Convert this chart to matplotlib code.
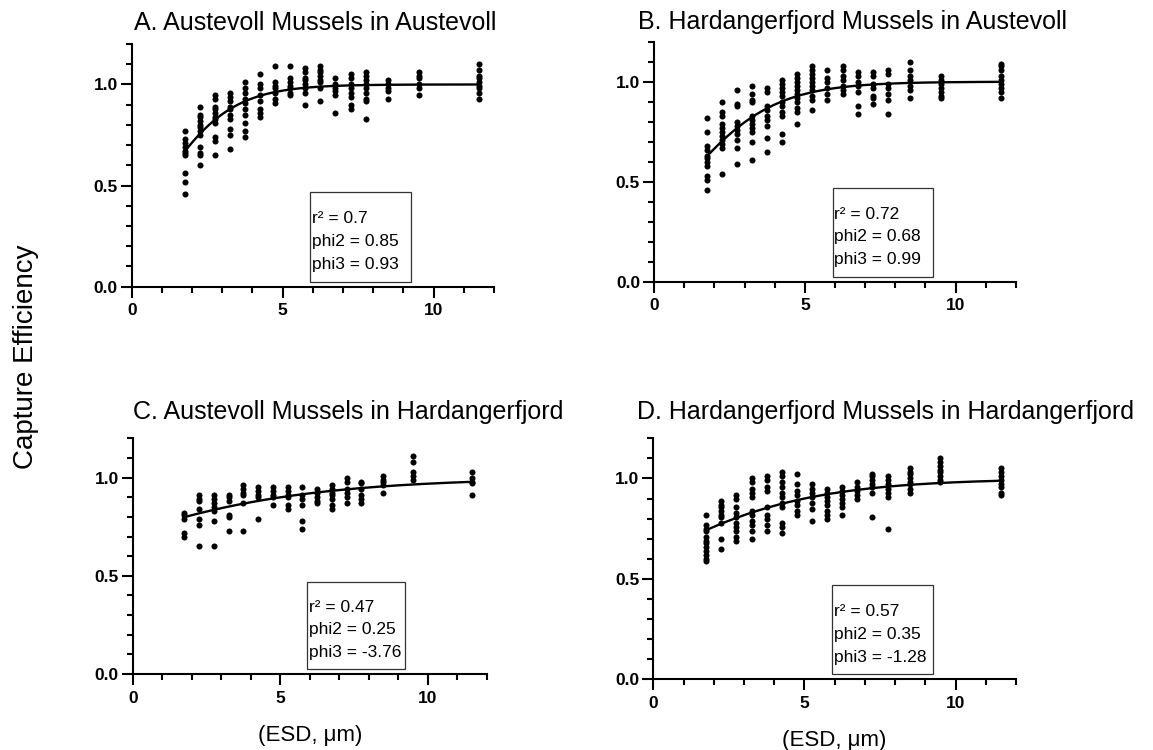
import numpy as np
import matplotlib
matplotlib.use("Agg")
import matplotlib.pyplot as plt
from matplotlib.patches import Rectangle
from matplotlib.ticker import MultipleLocator

plt.rcParams['font.family'] = ['Liberation Sans', 'DejaVu Sans']

# particle sizes (ESD, um) of the measured columns
esd = [1.75, 2.25, 2.75, 3.25, 3.75, 4.25, 4.75, 5.25, 5.75, 6.25, 6.75,
       7.25, 7.75, 8.5, 9.5, 11.5]

# capture efficiency, one list per ESD column
ce_a = [
    [0.77, 0.73, 0.71, 0.69, 0.67, 0.66, 0.65, 0.56, 0.52, 0.46],
    [0.89, 0.85, 0.84, 0.82, 0.80, 0.79, 0.77, 0.75, 0.69, 0.66, 0.65, 0.60],
    [0.95, 0.93, 0.89, 0.88, 0.86, 0.84, 0.83, 0.81, 0.74, 0.72, 0.65],
    [0.96, 0.94, 0.92, 0.89, 0.88, 0.85, 0.83, 0.78, 0.75, 0.68],
    [1.01, 0.98, 0.96, 0.93, 0.91, 0.88, 0.85, 0.81, 0.77, 0.74],
    [1.05, 1.00, 0.98, 0.95, 0.92, 0.88, 0.86, 0.84],
    [1.09, 1.01, 0.99, 0.98, 0.96, 0.93, 0.91],
    [1.09, 1.03, 1.01, 0.99, 0.98, 0.96, 0.95],
    [1.08, 1.06, 1.03, 1.02, 1.00, 0.98, 0.96, 0.90],
    [1.09, 1.07, 1.06, 1.04, 1.02, 1.01, 0.98, 0.92],
    [1.03, 1.00, 0.98, 0.97, 0.95, 0.86],
    [1.05, 1.03, 1.00, 0.98, 0.96, 0.94, 0.90, 0.88],
    [1.06, 1.04, 1.02, 1.00, 0.98, 0.96, 0.93, 0.92, 0.83],
    [1.02, 1.00, 0.98, 0.97, 0.93],
    [1.06, 1.04, 1.03, 1.00, 0.98, 0.95],
    [1.10, 1.07, 1.04, 1.03, 1.01, 0.99, 0.98, 0.96, 0.93],
]
ce_b = [
    [0.82, 0.75, 0.68, 0.66, 0.63, 0.62, 0.60, 0.58, 0.53, 0.51, 0.46],
    [0.90, 0.85, 0.83, 0.79, 0.77, 0.75, 0.73, 0.71, 0.69, 0.67, 0.54],
    [0.96, 0.89, 0.88, 0.80, 0.78, 0.76, 0.74, 0.71, 0.67, 0.59],
    [0.98, 0.94, 0.91, 0.90, 0.83, 0.81, 0.79, 0.77, 0.75, 0.70, 0.61],
    [0.97, 0.95, 0.88, 0.86, 0.83, 0.81, 0.78, 0.72, 0.65],
    [1.01, 0.99, 0.97, 0.95, 0.93, 0.90, 0.88, 0.85, 0.83, 0.74, 0.70],
    [1.04, 1.02, 1.00, 0.98, 0.96, 0.94, 0.92, 0.90, 0.87, 0.85, 0.79],
    [1.08, 1.06, 1.04, 1.02, 1.00, 0.98, 0.96, 0.93, 0.91, 0.86],
    [1.06, 1.02, 1.00, 0.97, 0.94, 0.91],
    [1.08, 1.06, 1.03, 1.01, 0.98, 0.96, 0.94],
    [1.05, 1.03, 1.00, 0.98, 0.95, 0.88, 0.84],
    [1.05, 1.03, 0.99, 0.97, 0.93, 0.92, 0.89],
    [1.06, 1.04, 0.99, 0.97, 0.94, 0.91, 0.84],
    [1.10, 1.06, 1.03, 1.01, 0.98, 0.96, 0.92],
    [1.03, 1.01, 0.99, 0.97, 0.95, 0.93, 0.92],
    [1.09, 1.08, 1.06, 1.03, 1.01, 0.99, 0.97, 0.95, 0.92],
]
ce_c = [
    [0.82, 0.81, 0.79, 0.72, 0.70],
    [0.91, 0.89, 0.88, 0.84, 0.79, 0.76, 0.65],
    [0.91, 0.89, 0.87, 0.85, 0.83, 0.78, 0.65],
    [0.91, 0.90, 0.88, 0.81, 0.80, 0.73],
    [0.96, 0.94, 0.92, 0.91, 0.87, 0.73],
    [0.95, 0.93, 0.91, 0.90, 0.79],
    [0.95, 0.93, 0.91, 0.90, 0.86],
    [0.95, 0.93, 0.91, 0.90, 0.86, 0.84],
    [0.95, 0.91, 0.89, 0.86, 0.78, 0.74],
    [0.94, 0.92, 0.90, 0.88, 0.87],
    [0.96, 0.94, 0.92, 0.91, 0.89, 0.86, 0.84],
    [1.00, 0.98, 0.94, 0.92, 0.90, 0.87],
    [0.98, 0.97, 0.94, 0.91, 0.89, 0.87],
    [1.01, 0.99, 0.98, 0.96, 0.92],
    [1.11, 1.08, 1.03, 1.01, 0.99],
    [1.03, 1.00, 0.98, 0.97, 0.91],
]
ce_d = [
    [0.82, 0.77, 0.75, 0.74, 0.71, 0.69, 0.68, 0.66, 0.64, 0.62, 0.60, 0.59],
    [0.89, 0.87, 0.86, 0.84, 0.82, 0.81, 0.78, 0.70, 0.65],
    [0.92, 0.90, 0.86, 0.83, 0.81, 0.78, 0.76, 0.74, 0.71, 0.69],
    [1.00, 0.98, 0.95, 0.93, 0.91, 0.84, 0.82, 0.79, 0.77, 0.74, 0.70],
    [1.01, 0.99, 0.96, 0.94, 0.86, 0.82, 0.80, 0.77, 0.74],
    [1.03, 1.01, 0.98, 0.96, 0.93, 0.91, 0.88, 0.86, 0.78, 0.76, 0.73],
    [1.02, 0.97, 0.94, 0.92, 0.89, 0.87, 0.84, 0.82],
    [0.97, 0.95, 0.93, 0.91, 0.88, 0.85, 0.79],
    [0.95, 0.93, 0.91, 0.89, 0.87, 0.84, 0.82, 0.80],
    [0.96, 0.94, 0.92, 0.90, 0.88, 0.86, 0.82],
    [0.98, 0.96, 0.94, 0.92, 0.90],
    [1.02, 1.01, 0.99, 0.97, 0.96, 0.93, 0.81],
    [1.01, 0.99, 0.97, 0.95, 0.93, 0.91, 0.75],
    [1.05, 1.03, 1.02, 1.00, 0.98, 0.97, 0.95, 0.93],
    [1.10, 1.08, 1.06, 1.04, 1.03, 1.01, 0.99, 0.98],
    [1.05, 1.03, 1.01, 0.99, 0.97, 0.96, 0.93, 0.92],
]

titles = ["A. Austevoll Mussels in Austevoll",
          "B. Hardangerfjord Mussels in Austevoll",
          "C. Austevoll Mussels in Hardangerfjord",
          "D. Hardangerfjord Mussels in Hardangerfjord"]
r2 = ["0.7", "0.72", "0.47", "0.57"]
phi2 = [0.85, 0.68, 0.25, 0.35]
phi3 = [0.93, 0.99, -3.76, -1.28]
all_ce = [ce_a, ce_b, ce_c, ce_d]

W, H = 1153, 750
fig = plt.figure(figsize=(W / 100, H / 100), dpi=100)

# axes boxes in pixels: left, right, top, bottom
boxes = [(131.7, 494, 44, 286.7), (654, 1016, 41.7, 281.7),
         (132.7, 486.7, 438.3, 674), (653.3, 1016, 438.3, 679.3)]
title_pos = [(134, 30), (638, 28.5), (133, 419), (637, 419)]

for i in range(4):
    l, r, t, b = boxes[i]
    ax = fig.add_axes([l / W, 1 - b / H, (r - l) / W, (b - t) / H])

    xs = np.concatenate([[esd[j]] * len(col) for j, col in enumerate(all_ce[i])])
    ys = np.concatenate(all_ce[i])
    ax.scatter(xs, ys, s=19, color='black', linewidths=0, zorder=3)

    # fitted logistic curve from the panel's phi2 / phi3
    xf = np.linspace(esd[0], esd[-1], 200)
    yf = 1 / (1 + np.exp(-phi2[i] * (xf - phi3[i])))
    ax.plot(xf, yf, color='black', lw=1.7, zorder=4)

    ax.set_xlim(0, 12)
    ax.set_ylim(0, 1.2)
    ax.xaxis.set_major_locator(MultipleLocator(5))
    ax.xaxis.set_minor_locator(MultipleLocator(1))
    ax.yaxis.set_major_locator(MultipleLocator(0.5))
    ax.yaxis.set_minor_locator(MultipleLocator(0.1))
    ax.yaxis.set_major_formatter(matplotlib.ticker.FormatStrFormatter('%.1f'))
    for s in ['top', 'right']:
        ax.spines[s].set_visible(False)
    for s in ['left', 'bottom']:
        ax.spines[s].set_linewidth(1.5)
        ax.spines[s].set_clip_on(False)
    ax.tick_params(which='major', length=8, width=1.5, labelsize=12.5)
    ax.tick_params(which='minor', length=4, width=1.5)
    ax.tick_params(axis='y', which='major', pad=2)
    ax.tick_params(axis='x', which='major', pad=4)
    for lab in ax.get_xticklabels() + ax.get_yticklabels():
        lab.set_fontweight('bold')

    ax.add_patch(Rectangle((5.92, 0.025), 3.32, 0.445, fill=True, fc='white',
                           ec='#333333', lw=0.9, zorder=5))
    lines = ["r² = " + r2[i], "phi2 = %g" % phi2[i], "phi3 = %g" % phi3[i]]
    for k, yy in enumerate([0.315, 0.202, 0.086]):
        ax.text(5.97, yy, lines[k], fontsize=12.5,
                va='baseline', ha='left', zorder=6)

    tx, ty = title_pos[i]
    fig.text(tx / W, 1 - ty / H, titles[i], fontsize=18, va='baseline', ha='left')

    if i >= 2:
        ax.set_xlabel("(ESD, μm)", fontsize=16, labelpad=14)

fig.text(26 / W, 1 - 357 / H, "Capture Efficiency", fontsize=20,
         rotation=90, va='center', ha='center')

fig.savefig("out.png", dpi=100)
